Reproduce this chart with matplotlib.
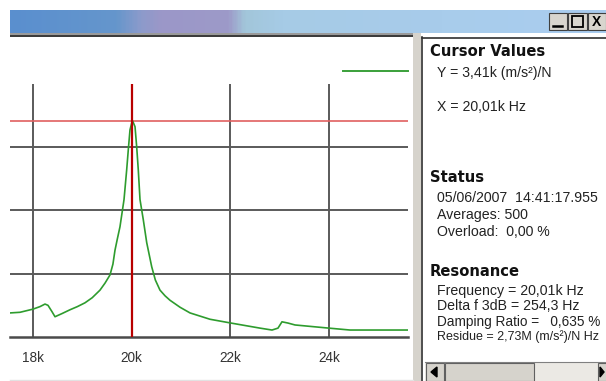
import numpy as np
import matplotlib
matplotlib.use("Agg")
import matplotlib.pyplot as plt
from matplotlib.colors import LinearSegmentedColormap
from matplotlib.lines import Line2D
from matplotlib.patches import Rectangle

# ---------------- data ----------------
freq_hz = [17534, 17736, 18000, 18142, 18243, 18304, 18385, 18446, 18588, 18750,
           18900, 19054, 19200, 19358, 19459, 19561, 19620, 19662, 19710, 19763,
           19845, 19899, 19932, 19966, 20001, 20021, 20068, 20102, 20134, 20169,
           20236, 20305, 20406, 20480, 20574, 20677, 20777, 20980, 21183, 21588,
           22014, 22602, 22845, 22966, 23047, 23169, 23311, 24000, 24426, 25602]
response = [380, 390, 440, 480, 520, 500, 400, 320, 370, 430,
            480, 540, 620, 740, 850, 980, 1150, 1370, 1550, 1740,
            2170, 2640, 2960, 3270, 3380, 3410, 3320, 3000, 2640, 2170,
            1850, 1490, 1110, 900, 740, 650, 580, 470, 380, 280,
            220, 140, 110, 140, 240, 220, 190, 140, 110, 110]
x_ticks = [18000, 20000, 22000, 24000]
x_tick_labels = ["18k", "20k", "22k", "24k"]
y_grid = [1000, 2000, 3000]
cursor_x = 20010
cursor_y = 3410

cursor_lines = ["Y = 3,41k (m/s\u00b2)/N", "X = 20,01k Hz"]
status_lines = ["05/06/2007  14:41:17.955", "Averages: 500", "Overload:  0,00 %"]
resonance_lines = ["Frequency = 20,01k Hz", "Delta f 3dB = 254,3 Hz",
                   "Damping Ratio =   0,635 %", "Residue = 2,73M (m/s\u00b2)/N Hz"]

# ---------------- figure ----------------
W, H = 606, 381
fig = plt.figure(figsize=(W / 100, H / 100), dpi=100)
fig.patch.set_facecolor("white")


def px_box(x0, y0, x1, y1):
    return [x0 / W, 1 - y1 / H, (x1 - x0) / W, (y1 - y0) / H]


def fx(x):
    return x / W


def fy(y):
    return 1 - y / H


# background chrome axes (full figure, pixel coords)
bg = fig.add_axes([0, 0, 1, 1])
bg.set_xlim(0, W)
bg.set_ylim(H, 0)
bg.axis("off")

# title bar gradient
stops = [(10, "#5a8fcf"), (115, "#6596cc"), (140, "#8c9bcb"), (160, "#9b97c8"),
         (228, "#9d9ac9"), (245, "#a2c6da"), (282, "#a6cbe6"), (606, "#aacdf0")]
cm = LinearSegmentedColormap.from_list(
    "tb", [((x - 10) / (606 - 10), c) for x, c in stops])
grad = np.linspace(0, 1, 400)[None, :]
bg.imshow(grad, cmap=cm, aspect="auto", extent=(10, 606, 33, 10), zorder=1)

# window buttons
for (bx0, bx1) in [(549, 567), (568, 587), (588, 606)]:
    bg.add_patch(Rectangle((bx0, 13), bx1 - bx0, 17, facecolor="#d8d5ce",
                           edgecolor="#404040", lw=0.8, zorder=2))
bg.plot([553, 562], [26, 26], color="black", lw=1.8, zorder=3)
bg.add_patch(Rectangle((572, 16), 11, 11, facecolor="none", edgecolor="black",
                       lw=1.3, zorder=3))
bg.text(597, 21.5, "X", ha="center", va="center", fontsize=10, weight="bold",
        family="Liberation Sans", color="black", zorder=3)

# separators
bg.add_patch(Rectangle((10, 33), 405, 2, facecolor="#9a9a9a", edgecolor="none", zorder=1))
bg.add_patch(Rectangle((10, 35), 405, 2, facecolor="#3c3c3c", edgecolor="none", zorder=1))
bg.add_patch(Rectangle((413, 33), 8, 348, facecolor="#d6d3cc", edgecolor="none", zorder=1))
bg.plot([421.5, 421.5], [37, 381], color="#303030", lw=1.2, zorder=2)
bg.plot([421.5, 606], [37.5, 37.5], color="#303030", lw=1.2, zorder=2)
bg.plot([10, 413], [379.5, 379.5], color="#e2e2e2", lw=1, zorder=1)

# scrollbar
bg.add_patch(Rectangle((425, 362), 181, 19, facecolor="#ebe9e4", edgecolor="none", zorder=1))
bg.add_patch(Rectangle((426, 363), 18, 18, facecolor="#d6d3cc", edgecolor="#606060", lw=0.8, zorder=2))
bg.add_patch(Rectangle((445, 363), 89, 18, facecolor="#d6d3cc", edgecolor="#606060", lw=0.8, zorder=2))
bg.add_patch(Rectangle((598, 363), 10, 18, facecolor="#d6d3cc", edgecolor="#606060", lw=0.8, zorder=2))
bg.plot([425, 606], [361.5, 361.5], color="#808080", lw=0.8, zorder=2)
bg.fill([431, 437, 437], [372, 367, 377], color="black", zorder=3)
bg.fill([604, 600, 600], [372, 367, 377], color="black", zorder=3)

# ---------------- plot ----------------
px_per_hz = (329 - 33) / 6000.0
x_left = 18000 + (10 - 33) / px_per_hz
x_right = 18000 + (408 - 33) / px_per_hz
px_per_unit = (337 - 147) / 3000.0
y_top = (337 - 37) / px_per_unit

ax = fig.add_axes(px_box(10, 37, 408, 337))
ax.set_facecolor("none")
ax.set_xlim(x_left, x_right)
ax.set_ylim(0, y_top)
for s in ["top", "left", "right"]:
    ax.spines[s].set_visible(False)
ax.spines["bottom"].set_color("#4a4a4a")
ax.spines["bottom"].set_linewidth(1.8)
ax.set_yticks([])
ax.set_xticks(x_ticks)
ax.set_xticklabels(x_tick_labels, fontsize=9.8, family="Liberation Sans", color="#333333")
ax.tick_params(axis="x", length=0, pad=10)

ax.hlines(y_grid, x_left, x_right, color="#5a5a5a", lw=1.4, zorder=1)
ax.vlines(x_ticks, 0, 4000, color="#5a5a5a", lw=1.4, zorder=1)

line, = ax.plot(freq_hz, response, color="#2e9c2e", lw=1.2, zorder=3)
ax.axhline(cursor_y, color="#e06060", lw=1.2, zorder=2)
ax.vlines([cursor_x], 0, 4000, color="#b80000", lw=1.6, zorder=4)

leg_handle = Line2D([], [], color="#3aa03a", lw=1.4)
ax.legend([leg_handle], [""], loc="center right",
          bbox_to_anchor=(1.0, (337 - 72) / 300.0), frameon=False,
          handlelength=4.7, handletextpad=0, borderpad=0, borderaxespad=0,
          prop={"size": 10})

# ---------------- right panel text ----------------
head_kw = dict(fontsize=10.6, family="DejaVu Sans", weight="bold", color="#111111",
               va="center", ha="left")
body_kw = dict(fontsize=10.2, family="Liberation Sans", color="#222222",
               va="center", ha="left")

fig.text(fx(430), fy(52), "Cursor Values", **head_kw)
for yy, t in zip([73, 107], cursor_lines):
    fig.text(fx(437), fy(yy), t, **body_kw)

fig.text(fx(430), fy(178), "Status", **head_kw)
for yy, t in zip([198, 215, 232], status_lines):
    fig.text(fx(437), fy(yy), t, **body_kw)

fig.text(fx(430), fy(272), "Resonance", **head_kw)
for yy, t in zip([291, 306], resonance_lines[:2]):
    fig.text(fx(437), fy(yy), t, **body_kw)
fig.text(fx(437), fy(322), resonance_lines[2], **dict(body_kw, fontsize=9.8))
fig.text(fx(437), fy(337), resonance_lines[3], **dict(body_kw, fontsize=9.0))

fig.savefig("out.png", dpi=100)
